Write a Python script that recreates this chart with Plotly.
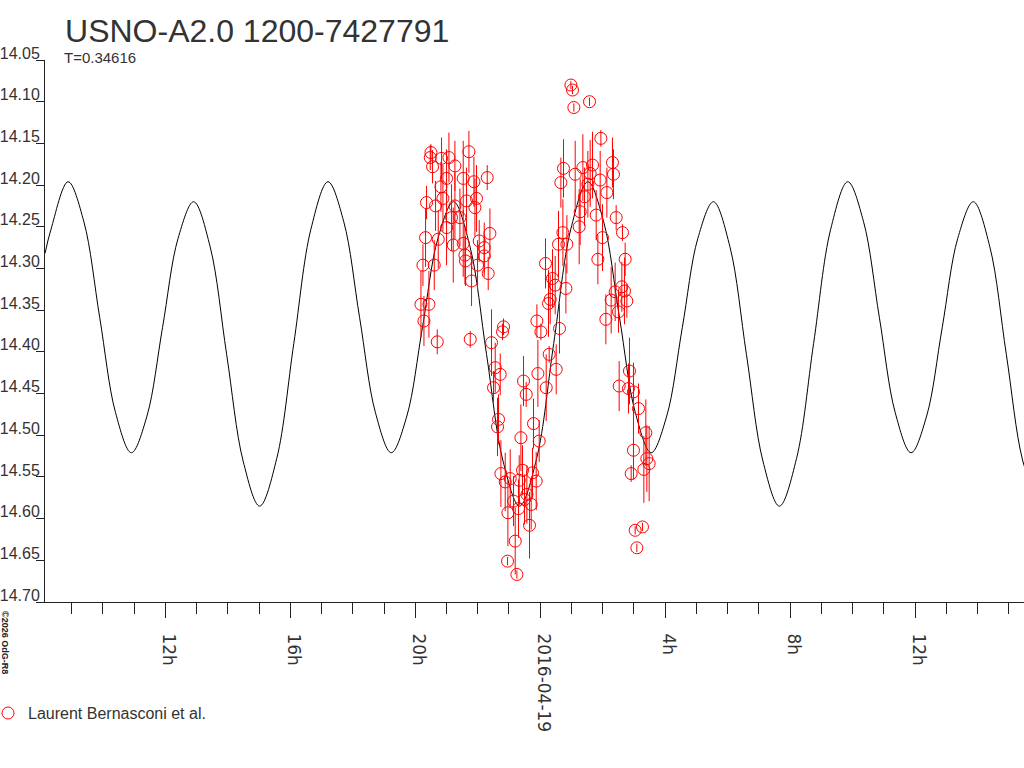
import plotly.graph_objects as go

# time axis: hours relative to 2016-04-19 00:00
model_hours = [-15.853, -15.661, -15.114, -14.608, -14.101, -13.594, -13.088, -12.589, -12.091, -11.594,
               -11.094, -10.566, -10.038, -9.510, -8.982, -8.435, -7.888, -7.341, -6.794, -6.288,
               -5.781, -5.274, -4.768, -4.269, -3.771, -3.274, -2.774, -2.246, -1.718, -1.190,
               -0.662, -0.115, 0.432, 0.979, 1.526, 2.032, 2.539, 3.046, 3.552, 4.051,
               4.549, 5.046, 5.546, 6.074, 6.602, 7.130, 7.658, 8.205, 8.752, 9.299,
               9.846, 10.352, 10.859, 11.366, 11.872, 12.371, 12.869, 13.366, 13.866, 14.394,
               14.922, 15.450, 15.978]
model_mag = [14.282, 14.253, 14.196, 14.244, 14.359, 14.473, 14.521, 14.477, 14.371, 14.264,
             14.220, 14.274, 14.403, 14.531, 14.585, 14.528, 14.390, 14.253, 14.196, 14.244,
             14.359, 14.473, 14.521, 14.477, 14.371, 14.264, 14.220, 14.274, 14.403, 14.531,
             14.585, 14.528, 14.390, 14.253, 14.196, 14.244, 14.359, 14.473, 14.521, 14.477,
             14.371, 14.264, 14.220, 14.274, 14.403, 14.531, 14.585, 14.528, 14.390, 14.253,
             14.196, 14.244, 14.359, 14.473, 14.521, 14.477, 14.371, 14.264, 14.220, 14.274,
             14.403, 14.531, 14.585]

obs_hours = [-3.818, -3.754, -3.722, -3.670, -3.638, -3.562, -3.520, -3.498, -3.446, -3.392,
             -3.350, -3.296, -3.264, -3.178, -3.158, -3.114, -2.998, -2.998, -2.922, -2.838,
             -2.784, -2.730, -2.730, -2.570, -2.464, -2.464, -2.410, -2.390, -2.358, -2.282,
             -2.240, -2.198, -2.122, -2.090, -2.038, -2.006, -1.952, -1.792, -1.792, -1.696,
             -1.664, -1.610, -1.558,
             -1.494, -1.440, -1.366, -1.334, -1.280, -1.258, -1.206, -1.174, -1.120, -1.046,
             -1.034, -0.960, -0.854, -0.800, -0.746, -0.694, -0.672, -0.618, -0.566, -0.534,
             -0.502, -0.448, -0.426, -0.342, -0.288, -0.246, -0.214, -0.128, -0.106, -0.074,
             -0.032, 0.022, 0.192, 0.266, 0.288, 0.512,
             0.170, 0.320, 0.394, 0.480, 0.586, 0.618, 0.662, 0.726, 0.746, 0.822,
             0.854, 0.982, 1.034, 1.078, 1.120, 1.248, 1.280, 1.366, 1.418, 1.526,
             1.578, 1.600, 1.674, 1.792, 1.846, 1.920, 1.942, 1.994, 2.102, 2.134,
             2.272, 2.314, 2.346, 2.432, 2.506, 2.634,
             2.720, 2.400, 2.614, 2.698, 2.774, 2.858, 2.528, 2.826, 2.986, 3.146,
             3.382, 2.986, 3.414, 3.488, 3.318, 2.912, 3.040, 3.274, 3.094]
obs_mag = [14.343, 14.296, 14.363, 14.263, 14.221, 14.343, 14.167, 14.161, 14.178, 14.296,
           14.225, 14.388, 14.265, 14.202, 14.168, 14.216, 14.192, 14.251, 14.167, 14.239,
           14.272, 14.177, 14.225, 14.239, 14.192, 14.270, 14.284, 14.291, 14.219, 14.160,
           14.385, 14.315, 14.196, 14.227, 14.216, 14.296, 14.267, 14.275, 14.285, 14.191,
           14.306, 14.258, 14.389,
           14.443, 14.419, 14.490, 14.481, 14.427, 14.546, 14.376, 14.370, 14.556, 14.651,
           14.593, 14.552, 14.579, 14.627, 14.667, 14.588, 14.554, 14.503, 14.542, 14.435,
           14.577, 14.451, 14.571, 14.608, 14.583, 14.545, 14.486, 14.555, 14.363, 14.426,
           14.507, 14.376, 14.443, 14.342, 14.403, 14.421,
           14.294, 14.337, 14.312, 14.320, 14.271, 14.372, 14.197, 14.257, 14.180, 14.324,
           14.271, 14.080, 14.086, 14.107, 14.187, 14.250, 14.232, 14.179, 14.214, 14.199,
           14.100, 14.186, 14.176, 14.236, 14.289, 14.194, 14.144, 14.263, 14.361, 14.209,
           14.338, 14.173, 14.187, 14.239, 14.352, 14.257,
           14.289, 14.328, 14.322, 14.327, 14.339, 14.423, 14.441, 14.444, 14.448, 14.468,
           14.497, 14.518, 14.528, 14.534, 14.541, 14.546, 14.614, 14.610, 14.635]
obs_err = [0.040, 0.025, 0.030, 0.035, 0.020, 0.040, 0.015, 0.010, 0.020, 0.030,
           0.030, 0.015, 0.035, 0.030, 0.025, 0.040, 0.035, 0.045, 0.030, 0.040,
           0.045, 0.030, 0.040, 0.035, 0.045, 0.040, 0.035, 0.030, 0.040, 0.025,
           0.010, 0.030, 0.030, 0.035, 0.040, 0.030, 0.025, 0.030, 0.025, 0.015,
           0.020, 0.030, 0.040,
           0.020, 0.030, 0.035, 0.030, 0.025, 0.040, 0.010, 0.010, 0.035, 0.005,
           0.040, 0.035, 0.030, 0.040, 0.005, 0.035, 0.030, 0.040, 0.030, 0.030,
           0.030, 0.015, 0.035, 0.040, 0.030, 0.030, 0.030, 0.035, 0.020, 0.040,
           0.025, 0.010, 0.040, 0.040, 0.010, 0.030,
           0.030, 0.030, 0.035, 0.035, 0.040, 0.030, 0.030, 0.040, 0.035, 0.030,
           0.035, 0.005, 0.005, 0.005, 0.040, 0.045, 0.040, 0.040, 0.035, 0.040,
           0.005, 0.040, 0.040, 0.030, 0.030, 0.035, 0.010, 0.040, 0.030, 0.030,
           0.040, 0.030, 0.030, 0.015, 0.025, 0.010,
           0.020, 0.035, 0.030, 0.040, 0.020, 0.040, 0.030, 0.030, 0.035, 0.030,
           0.040, 0.035, 0.040, 0.045, 0.040, 0.010, 0.005, 0.005, 0.005]

tick_hours = [-12, -8, -4, 0, 4, 8, 12]
tick_text = ["12h", "16h", "20h", "2016-04-19", "4h", "8h", "12h"]

FONT = "Liberation Sans, Arial, sans-serif"
INK = "#333333"

fig = go.Figure()

fig.add_trace(go.Scatter(
    x=model_hours, y=model_mag, mode="lines",
    line=dict(color="black", width=1, shape="spline"),
    showlegend=False, hoverinfo="skip"))

fig.add_trace(go.Scatter(
    x=obs_hours, y=obs_mag, mode="markers",
    name="Laurent Bernasconi et al.",
    marker=dict(symbol="circle-open", size=12, color="red", line=dict(width=1, color="red")),
    error_y=dict(type="data", array=obs_err, color="red", thickness=1, width=0)))

fig.update_layout(
    width=1024, height=768,
    margin=dict(l=45, r=0, t=60, b=166, autoexpand=False),
    paper_bgcolor="white", plot_bgcolor="white",
    font=dict(family=FONT, color=INK),
    title=dict(text="USNO-A2.0 1200-7427791", x=0.0635, xanchor="left",
               y=0.9596, yanchor="middle", font=dict(size=32, color=INK),
               automargin=False),
    legend=dict(orientation="h", x=-0.0582, xanchor="left", y=-0.205, yanchor="middle",
                font=dict(size=16, color=INK), bgcolor="rgba(0,0,0,0)"),
    showlegend=True,
)

fig.update_xaxes(
    range=[-15.853, 15.488], automargin=False,
    tickmode="array", tickvals=tick_hours, ticktext=tick_text,
    tickangle=90, ticks="outside", ticklen=15, tickcolor="#222", tickwidth=1,
    minor=dict(tickmode="linear", tick0=0, dtick=1, ticks="outside", ticklen=11,
               tickcolor="#222", tickwidth=1),
    tickfont=dict(family="DejaVu Sans, sans-serif", size=17, color=INK),
    ticklabelshift=3, ticklabelstandoff=12,
    showline=True, linecolor="#222", linewidth=1,
    showgrid=False, zeroline=False)

fig.update_yaxes(
    range=[14.70, 14.05], automargin=False,
    tick0=14.05, dtick=0.05, tickformat=".2f",
    ticks="outside", ticklen=8, tickcolor="#222", tickwidth=1,
    tickfont=dict(size=16, color=INK),
    ticklabelshift=7, ticklabelstandoff=-7,
    showline=True, linecolor="#222", linewidth=1,
    showgrid=False, zeroline=False)

fig.add_annotation(text="T=0.34616", xref="paper", yref="paper",
                   x=0.0174, y=1.0055, xanchor="left", yanchor="middle",
                   showarrow=False, font=dict(size=15, color=INK))
fig.add_annotation(text="<b>©2026 OdG-R8</b>", xref="paper", yref="paper",
                   x=-0.0409, y=-0.0756, xanchor="center", yanchor="middle",
                   textangle=90, showarrow=False, font=dict(size=9, color="#222"))

# drop the browser's default page margin so the figure sits at the window corner
fig.write_html("out.html", config={"displayModeBar": False},
               post_script="document.body.style.margin='0';")
